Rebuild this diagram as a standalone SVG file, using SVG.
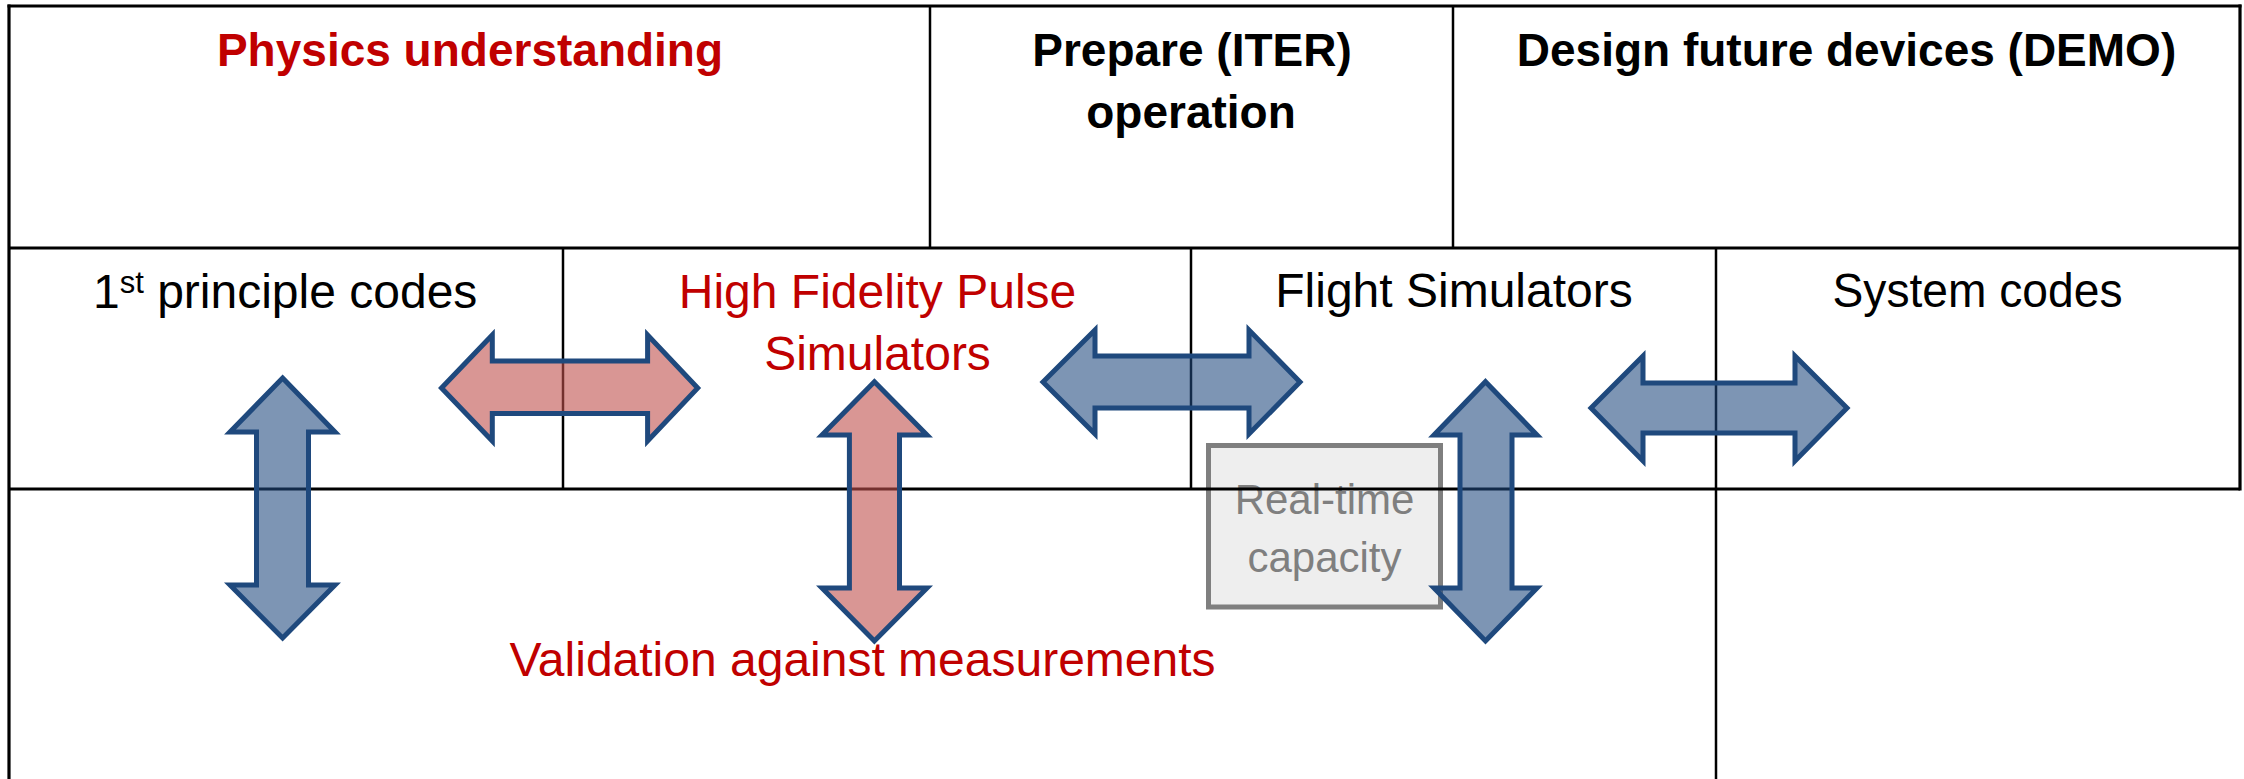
<svg xmlns="http://www.w3.org/2000/svg" width="2244" height="779" viewBox="0 0 2244 779">
<style>
.t{font-family:"Liberation Sans",Arial,sans-serif;}
.hb{font-size:46px;font-weight:bold;text-anchor:middle;}
.r{font-size:48px;text-anchor:middle;}
.red{fill:#c00000;}
.blk{fill:#000;}
.ln{stroke:#000;stroke-width:2.5;fill:none;}
.lo{stroke:#000;stroke-width:3.2;fill:none;}
.ab{fill:#1f497d;fill-opacity:0.58;stroke:#1f497d;stroke-width:5;stroke-linejoin:miter;}
.ar{fill:#c0504d;fill-opacity:0.6;stroke:#1f497d;stroke-width:5;stroke-linejoin:miter;}
</style>
<rect width="2244" height="779" fill="#fff"/>
<g id="realtime-box">
<rect x="1208.5" y="445.5" width="232" height="161.5" fill="#eeeeee" stroke="#7f7f7f" stroke-width="5"/>
<text class="t" x="1324.5" y="514" font-size="42" text-anchor="middle" fill="#7f7f7f">Real-time</text>
<text class="t" x="1324.5" y="572" font-size="42" text-anchor="middle" fill="#7f7f7f">capacity</text>
</g>
<g id="grid">
<line class="lo" x1="7.5" y1="6" x2="2241.5" y2="6"/>
<line class="lo" x1="9" y1="4.5" x2="9" y2="779"/>
<line class="lo" x1="2240" y1="4.5" x2="2240" y2="490.5"/>
<line class="lo" x1="9" y1="248" x2="2240" y2="248"/>
<line class="lo" x1="9" y1="489" x2="2240" y2="489"/>
<line class="ln" x1="930" y1="6" x2="930" y2="248"/>
<line class="ln" x1="1453" y1="6" x2="1453" y2="248"/>
<line class="ln" x1="563" y1="248" x2="563" y2="489"/>
<line class="ln" x1="1191" y1="248" x2="1191" y2="489"/>
<line class="ln" x1="1716" y1="248" x2="1716" y2="779"/>
</g>
<g id="header-physics"><text class="t hb red" x="470" y="66">Physics understanding</text></g>
<g id="header-iter"><text class="t hb blk" x="1192" y="66">Prepare (ITER)</text><text class="t hb blk" x="1191" y="128">operation</text></g>
<g id="header-demo"><text class="t hb blk" x="1846.5" y="66">Design future devices (DEMO)</text></g>
<g id="first-principle"><text class="t blk" x="93" y="308" font-size="48">1<tspan font-size="31" dy="-15">st</tspan><tspan font-size="48" dy="15"> principle codes</tspan></text></g>
<g id="high-fidelity"><text class="t r red" x="877.5" y="308">High Fidelity Pulse</text><text class="t r red" x="877.5" y="370">Simulators</text></g>
<g id="flight-simulators"><text class="t r blk" x="1454" y="307">Flight Simulators</text></g>
<g id="system-codes"><text class="t r blk" x="1977.5" y="307" textLength="290" lengthAdjust="spacingAndGlyphs">System codes</text></g>
<g id="validation"><text class="t r red" x="862.5" y="676">Validation against measurements</text></g>
<g id="connectors">
<polygon class="ab" points="282.6,378 335,432 308.5,432 308.5,585 335,585 282.6,638 230,585 256.5,585 256.5,432 230,432"/>
<polygon class="ar" points="441.5,388 492.3,335 492.3,361 647.6,361 647.6,335 697.7,388 647.6,441 647.6,413.5 492.3,413.5 492.3,441"/>
<polygon class="ar" points="874.4,381.7 927,435 899.5,435 899.5,588 927,588 874.4,641 822,588 849.4,588 849.4,435 822,435"/>
<polygon class="ab" points="1043,382 1095,330 1095,356 1249,356 1249,330 1300,382 1249,434 1249,408 1095,408 1095,434"/>
<polygon class="ab" points="1485.5,381.7 1537,435 1512,435 1512,588 1537,588 1485.5,641 1434,588 1460,588 1460,435 1434,435"/>
<polygon class="ab" points="1591,408 1643,356 1643,383 1795,383 1795,356 1847,408 1795,461 1795,433 1643,433 1643,461"/>
</g>
</svg>
